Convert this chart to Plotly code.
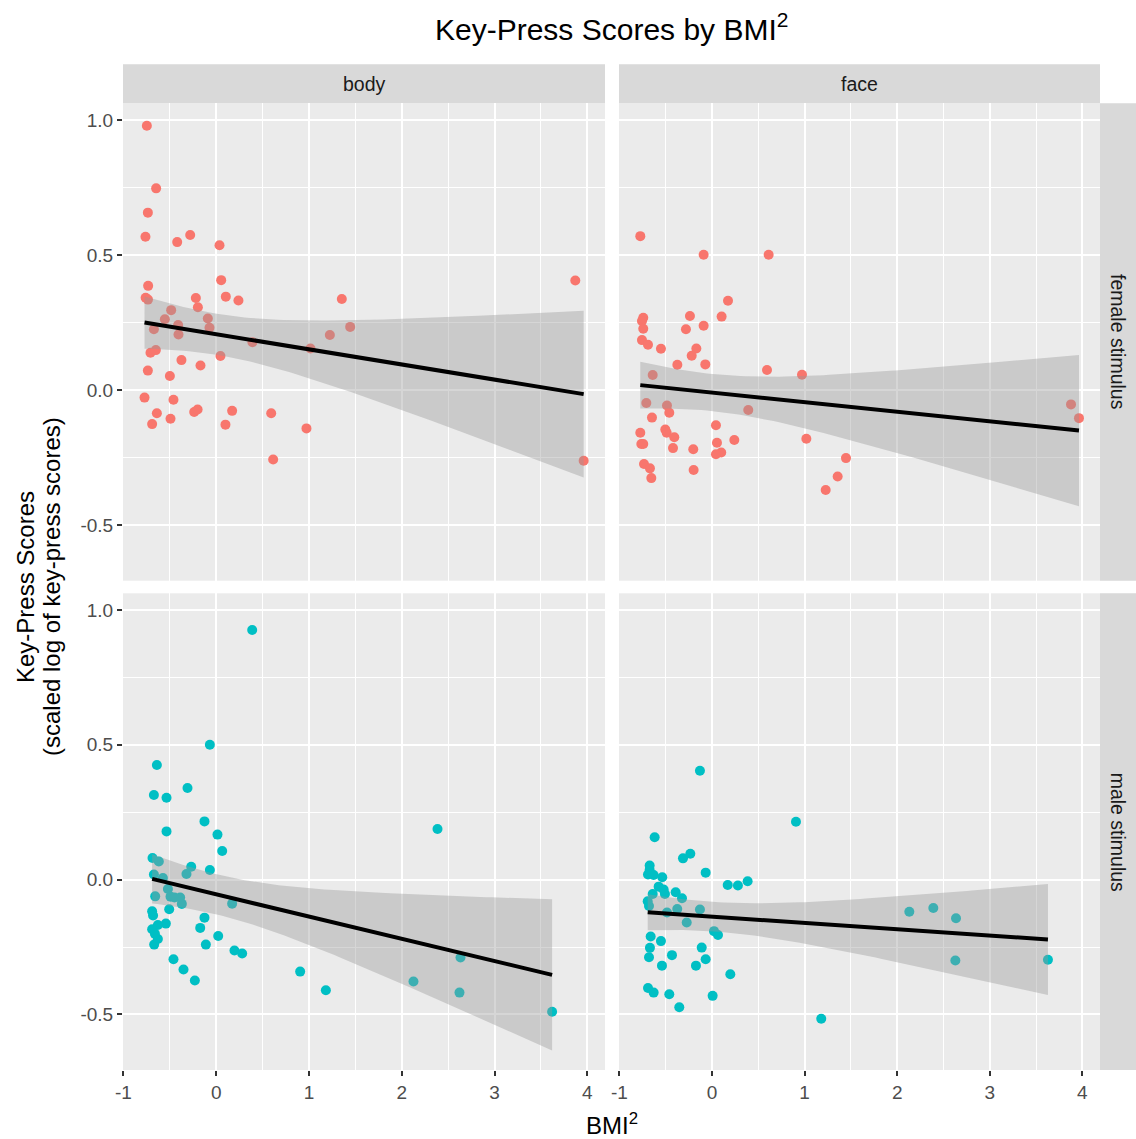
import numpy as np
import plotly.graph_objects as go

W, H = 1136, 1139

# ---- data: BMI^2 (x) and scaled log key-press scores (y) per facet ----
body_female_x = [-0.747, -0.647, -0.736, -0.762, -0.42, -0.28, 0.036, -0.733, -0.76, -0.735,
                 0.054, -0.219, -0.197, 0.104, 0.24, -0.485, -0.553, -0.41, -0.09, -0.072,
                 -0.671, -0.406, 0.391, 1.016, 1.225, 1.444, 1.354, -0.708, -0.65, -0.374,
                 -0.169, 0.046, -0.736, -0.499, -0.772, -0.46, -0.639, -0.69, -0.492, -0.237,
                 -0.2, 0.172, 0.1, 0.593, 0.973, 0.614, 3.87, 3.96]
body_female_y = [0.979, 0.747, 0.657, 0.568, 0.548, 0.574, 0.536, 0.386, 0.342, 0.335,
                 0.407, 0.341, 0.307, 0.346, 0.332, 0.296, 0.262, 0.241, 0.265, 0.231,
                 0.225, 0.206, 0.177, 0.154, 0.204, 0.234, 0.337, 0.138, 0.148, 0.111,
                 0.091, 0.126, 0.072, 0.052, -0.028, -0.036, -0.086, -0.126, -0.106, -0.081,
                 -0.072, -0.077, -0.128, -0.086, -0.142, -0.257, 0.406, -0.262]

face_female_x = [-0.774, -0.09, 0.612, 0.173, -0.742, -0.756, -0.742, -0.238, 0.104, -0.09,
                 -0.281, -0.756, -0.691, -0.551, -0.169, -0.219, -0.374, -0.072, 0.594, 0.972,
                 -0.64, -0.709, -0.486, -0.461, 0.392, -0.648, 0.043, -0.774, -0.504, -0.489,
                 -0.407, 1.019, -0.763, -0.742, 0.054, 0.241, -0.421, -0.202, 0.1, 0.043,
                 1.447, -0.734, -0.67, -0.655, -0.198, 1.357, 1.228, 3.877, 3.963]
face_female_y = [0.570, 0.501, 0.501, 0.331, 0.268, 0.256, 0.227, 0.274, 0.272, 0.238,
                 0.225, 0.185, 0.168, 0.153, 0.154, 0.127, 0.094, 0.095, 0.074, 0.057,
                 0.056, -0.048, -0.057, -0.084, -0.074, -0.102, -0.130, -0.158, -0.146, -0.158,
                 -0.175, -0.180, -0.200, -0.200, -0.195, -0.185, -0.215, -0.219, -0.231, -0.238,
                 -0.252, -0.274, -0.290, -0.326, -0.296, -0.320, -0.370, -0.053, -0.104]

body_male_x = [0.388, -0.068, -0.639, -0.671, -0.535, -0.309, -0.126, -0.535, 0.014, 0.065,
               -0.686, -0.618, -0.269, -0.068, -0.32, -0.671, -0.574, -0.52, -0.492, -0.449,
               -0.388, -0.37, -0.657, 0.172, -0.69, -0.68, -0.506, -0.126, -0.542, -0.628,
               -0.69, -0.66, -0.628, -0.172, 0.022, -0.668, -0.111, 0.197, 0.28, -0.46,
               -0.352, -0.23, 0.905, 1.182, 2.385, 2.633, 2.126, 2.622, 3.62]
body_male_y = [0.926, 0.500, 0.425, 0.314, 0.304, 0.340, 0.216, 0.179, 0.167, 0.106,
               0.080, 0.067, 0.048, 0.036, 0.021, 0.019, 0.006, -0.035, -0.063, -0.066,
               -0.066, -0.090, -0.062, -0.089, -0.117, -0.133, -0.110, -0.141, -0.163, -0.168,
               -0.184, -0.201, -0.220, -0.179, -0.209, -0.241, -0.241, -0.263, -0.274, -0.295,
               -0.333, -0.374, -0.341, -0.410, 0.188, -0.289, -0.378, -0.419, -0.490]

face_male_x = [-0.13, 0.907, -0.619, -0.313, -0.234, -0.068, -0.673, -0.673, -0.691, -0.63,
               -0.537, 0.17, 0.28, 0.385, -0.576, -0.522, -0.508, -0.64, -0.392, -0.324,
               -0.694, -0.68, -0.486, -0.375, -0.13, -0.273, 0.022, 0.065, -0.662, -0.551,
               -0.67, -0.68, -0.111, -0.432, -0.54, -0.173, -0.068, 0.198, -0.691, -0.63,
               -0.461, 0.007, -0.353, 1.18, 2.131, 2.39, 2.635, 2.628, 3.628]
face_male_y = [0.404, 0.215, 0.157, 0.079, 0.096, 0.026, 0.052, 0.036, 0.019, 0.017,
               0.009, -0.020, -0.022, -0.006, -0.026, -0.037, -0.053, -0.053, -0.047, -0.069,
               -0.080, -0.098, -0.122, -0.109, -0.111, -0.159, -0.191, -0.205, -0.211, -0.228,
               -0.253, -0.288, -0.252, -0.280, -0.319, -0.319, -0.295, -0.351, -0.402, -0.419,
               -0.425, -0.431, -0.473, -0.516, -0.119, -0.105, -0.143, -0.300, -0.297]

col_labels = ["body", "face"]
row_labels = ["female stimulus", "male stimulus"]
x_tick_vals = [-1, 0, 1, 2, 3, 4]
x_tick_text = ["-1", "0", "1", "2", "3", "4"]
y_tick_vals = [-0.5, 0.0, 0.5, 1.0]
y_tick_text = ["-0.5", "0.0", "0.5", "1.0"]

FEMALE = "#F8766D"
MALE = "#00BFC4"
FONT = "Liberation Sans, Arial, Helvetica, sans-serif"
TICK_SIZE = 19
STRIP_SIZE = 19.5
AXIS_TITLE_SIZE = 24
TITLE_SIZE = 30

# ---- panel geometry (pixels) ----
col_px = [(123.0, 605.0), (619.0, 1100.0)]
row_px = [(103.3, 580.7), (593.3, 1070.0)]
X_RANGE = [-1.004, 4.19]
Y_RANGE = [-0.706, 1.062]


def t_quantile(df, z=1.959963985):
    # Cornish-Fisher expansion of the Student t 97.5% quantile
    return (z + (z**3 + z) / (4 * df) + (5 * z**5 + 16 * z**3 + 3 * z) / (96 * df**2)
            + (3 * z**7 + 19 * z**5 + 17 * z**3 - 15 * z) / (384 * df**3))


def lm_band(x, y, n=80):
    x = np.asarray(x, float)
    y = np.asarray(y, float)
    X = np.column_stack([np.ones_like(x), x])
    beta, *_ = np.linalg.lstsq(X, y, rcond=None)
    resid = y - X @ beta
    df = len(x) - 2
    s2 = resid @ resid / df
    cov = np.linalg.inv(X.T @ X)
    xs = np.linspace(x.min(), x.max(), n)
    Xs = np.column_stack([np.ones_like(xs), xs])
    fit = Xs @ beta
    se = np.sqrt(s2 * np.einsum("ij,jk,ik->i", Xs, cov, Xs))
    t = t_quantile(df)
    return xs, fit, fit - t * se, fit + t * se


panels = [
    (0, 0, body_female_x, body_female_y, FEMALE),
    (0, 1, face_female_x, face_female_y, FEMALE),
    (1, 0, body_male_x, body_male_y, MALE),
    (1, 1, face_male_x, face_male_y, MALE),
]

fig = go.Figure()
layout = dict(
    width=W, height=H,
    margin=dict(l=0, r=0, t=0, b=0, autoexpand=False),
    paper_bgcolor="white",
    plot_bgcolor="#EBEBEB",
    showlegend=False,
    font=dict(family=FONT, color="#4D4D4D"),
)

for idx, (r, c, xs_, ys_, color) in enumerate(panels):
    n = idx + 1
    xa = "x" if n == 1 else f"x{n}"
    ya = "y" if n == 1 else f"y{n}"
    xkey = "xaxis" if n == 1 else f"xaxis{n}"
    ykey = "yaxis" if n == 1 else f"yaxis{n}"

    fig.add_trace(go.Scatter(x=xs_, y=ys_, mode="markers", xaxis=xa, yaxis=ya,
                             marker=dict(color=color, size=10, line=dict(width=0)),
                             hoverinfo="x+y"))
    gx, fit, lo, hi = lm_band(xs_, ys_)
    fig.add_trace(go.Scatter(x=np.concatenate([gx, gx[::-1]]),
                             y=np.concatenate([hi, lo[::-1]]),
                             mode="lines", fill="toself", xaxis=xa, yaxis=ya,
                             fillcolor="rgba(153,153,153,0.4)",
                             line=dict(width=0), hoverinfo="skip"))
    fig.add_trace(go.Scatter(x=gx, y=fit, mode="lines", xaxis=xa, yaxis=ya,
                             line=dict(color="black", width=4), hoverinfo="skip"))

    x0, x1 = col_px[c]
    y0, y1 = row_px[r]
    bottom = r == 1
    left = c == 0
    layout[xkey] = dict(
        domain=[x0 / W, x1 / W], anchor=ya, range=X_RANGE, automargin=False,
        tickmode="array", tickvals=x_tick_vals, ticktext=x_tick_text,
        showticklabels=bottom, ticks="outside" if bottom else "",
        ticklen=5, tickwidth=2, tickcolor="#333333",
        tickfont=dict(size=TICK_SIZE, color="#4D4D4D", family=FONT),
        showgrid=True, gridcolor="white", gridwidth=2,
        minor=dict(tickmode="array", tickvals=[-0.5, 0.5, 1.5, 2.5, 3.5],
                   showgrid=True, gridcolor="white", gridwidth=1, ticks=""),
        zeroline=False, showline=False,
    )
    layout[ykey] = dict(
        domain=[1 - y1 / H, 1 - y0 / H], anchor=xa, range=Y_RANGE, automargin=False,
        tickmode="array", tickvals=y_tick_vals, ticktext=y_tick_text,
        showticklabels=left, ticks="outside" if left else "",
        ticklen=5, tickwidth=2, tickcolor="#333333",
        tickfont=dict(size=TICK_SIZE, color="#4D4D4D", family=FONT),
        showgrid=True, gridcolor="white", gridwidth=2,
        minor=dict(tickmode="array", tickvals=[-0.25, 0.25, 0.75],
                   showgrid=True, gridcolor="white", gridwidth=1, ticks=""),
        zeroline=False, showline=False,
    )

fig.update_layout(**layout)

shapes = []
annotations = []
STRIP = "#D9D9D9"
strip_font = dict(family=FONT, size=STRIP_SIZE, color="#1A1A1A")

# column strips along the top
for c, label in enumerate(col_labels):
    x0, x1 = col_px[c]
    shapes.append(dict(type="rect", xref="paper", yref="paper",
                       x0=x0 / W, x1=x1 / W, y0=1 - 103.3 / H, y1=1 - 64.3 / H,
                       fillcolor=STRIP, line=dict(width=0), layer="below"))
    annotations.append(dict(text=label, xref="paper", yref="paper",
                            x=(x0 + x1) / 2 / W, y=1 - 84 / H, showarrow=False,
                            xanchor="center", yanchor="middle", font=strip_font))

# row strips along the right
for r, label in enumerate(row_labels):
    y0, y1 = row_px[r]
    shapes.append(dict(type="rect", xref="paper", yref="paper",
                       x0=1100 / W, x1=1136 / W, y0=1 - y1 / H, y1=1 - y0 / H,
                       fillcolor=STRIP, line=dict(width=0), layer="below"))
    annotations.append(dict(text=label, xref="paper", yref="paper",
                            x=1118 / W, y=1 - (y0 + y1) / 2 / H, showarrow=False,
                            textangle=90, xanchor="center", yanchor="middle",
                            font=strip_font))

# title and axis titles
title_font = dict(family=FONT, size=AXIS_TITLE_SIZE, color="black")
annotations.append(dict(text="Key-Press Scores by BMI<sup>2</sup>", xref="paper", yref="paper",
                        x=611.5 / W, y=1 - 27 / H, showarrow=False,
                        xanchor="center", yanchor="middle",
                        font=dict(family=FONT, size=TITLE_SIZE, color="black")))
annotations.append(dict(text="BMI<sup>2</sup>", xref="paper", yref="paper",
                        x=611.5 / W, y=1 - 1123.5 / H, showarrow=False,
                        xanchor="center", yanchor="middle", font=title_font))
annotations.append(dict(text="Key-Press Scores", xref="paper", yref="paper",
                        x=25 / W, y=1 - 587 / H, showarrow=False, textangle=-90,
                        xanchor="center", yanchor="middle", font=title_font))
annotations.append(dict(text="(scaled log of key-press scores)", xref="paper", yref="paper",
                        x=51 / W, y=1 - 587 / H, showarrow=False, textangle=-90,
                        xanchor="center", yanchor="middle", font=title_font))

fig.update_layout(shapes=shapes, annotations=annotations)
fig.write_html("out.html")
